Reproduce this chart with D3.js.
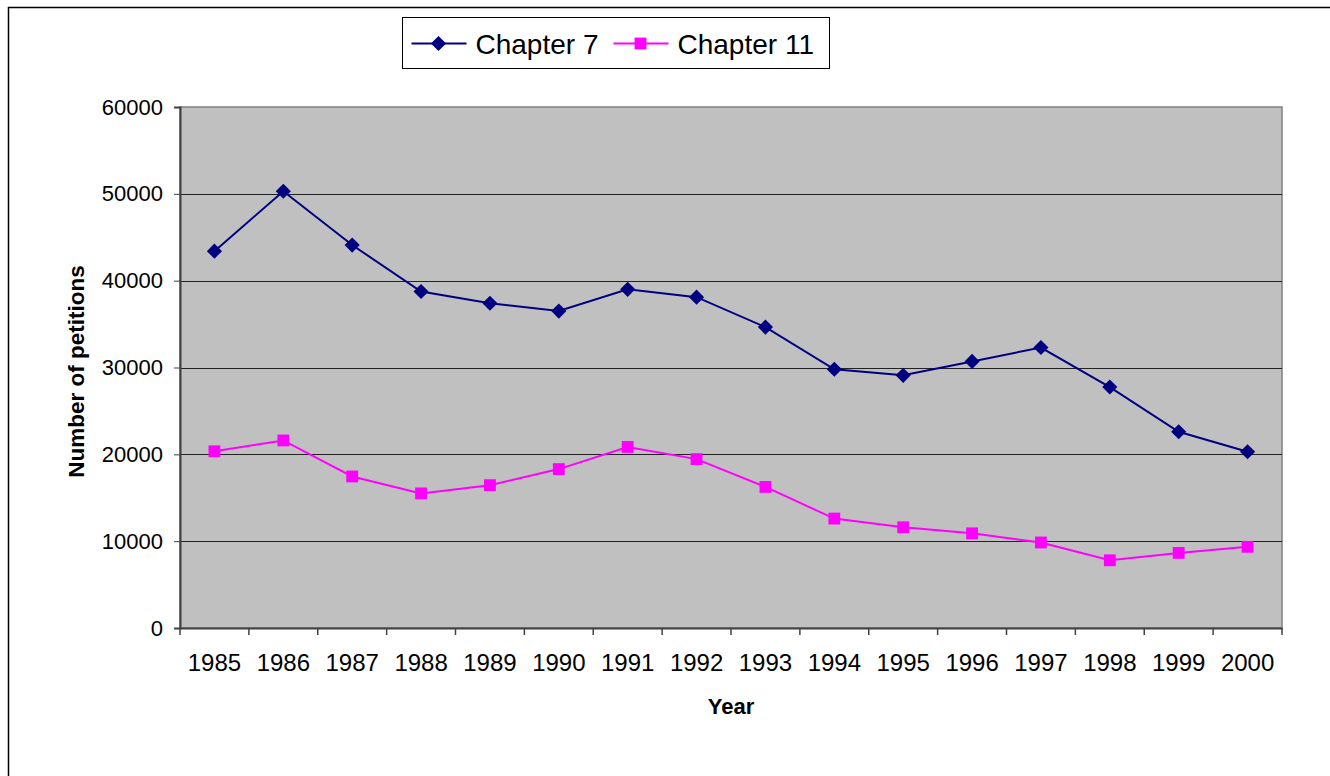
<!DOCTYPE html>
<html>
<head>
<meta charset="utf-8">
<script src="https://cdn.jsdelivr.net/npm/d3@7"></script>
<style>
  body { margin: 0; background: #fff; }
  svg { display: block; font-family: "Liberation Sans", Arial, sans-serif; }
  .axis path, .axis line { stroke: #404040; }
</style>
</head>
<body>
<div id="chart"></div>
<script>
// --- Data ---
const years = ['1985', '1986', '1987', '1988', '1989', '1990', '1991', '1992',
               '1993', '1994', '1995', '1996', '1997', '1998', '1999', '2000'];
const chapter7 = [43400, 50300, 44100, 38750, 37400, 36500, 39000, 38100,
                  34650, 29800, 29100, 30700, 32300, 27750, 22600, 20300];
const chapter11 = [20350, 21600, 17450, 15500, 16450, 18300, 20850, 19450,
                   16250, 12600, 11600, 10900, 9850, 7800, 8650, 9350];
const yTicks = [0, 10000, 20000, 30000, 40000, 50000, 60000];

const W = 1330, H = 776;
const margin = { top: 107, right: 48, bottom: 148, left: 180 };
const width = W - margin.left - margin.right;
const height = H - margin.top - margin.bottom;

const root = d3.select('#chart').append('svg')
    .attr('width', W)
    .attr('height', H);

// outer chart frame
root.append('rect')
    .attr('x', 8.5).attr('y', 7.5)
    .attr('width', W + 10).attr('height', H + 10)
    .attr('fill', 'none').attr('stroke', '#000').attr('stroke-width', 1.5);

const svg = root.append('g')
    .attr('transform', `translate(${margin.left},${margin.top})`);

// --- Scales ---
const x = d3.scaleBand().domain(years).range([0, width]);
const y = d3.scaleLinear().domain([0, 60000]).range([height, 0]);
const cx = d => x(d) + x.bandwidth() / 2;

// plot area
svg.append('rect')
    .attr('width', width).attr('height', height)
    .attr('fill', '#c0c0c0')
    .attr('stroke', '#808080').attr('stroke-width', 1.5);

// gridlines
svg.append('g')
    .selectAll('line')
    .data(yTicks.filter(v => v > 0 && v < 60000))
    .join('line')
    .attr('x1', 0).attr('x2', width)
    .attr('y1', d => Math.round(y(d)) + 0.5).attr('y2', d => Math.round(y(d)) + 0.5)
    .attr('stroke', '#222').attr('stroke-width', 1);

// --- Axes ---
const yAxis = svg.append('g')
    .attr('class', 'axis')
    .call(d3.axisLeft(y).tickValues(yTicks).tickSize(6).tickPadding(11).tickFormat(d3.format('d')));
yAxis.select('.domain').attr('stroke-width', 2);
yAxis.selectAll('text').attr('font-size', '22px').attr('fill', '#000');

const xAxis = svg.append('g')
    .attr('class', 'axis')
    .attr('transform', `translate(0,${height})`)
    .call(d3.axisBottom(x).tickSize(0).tickPadding(26));
xAxis.select('.domain').attr('stroke-width', 2);
xAxis.selectAll('text').attr('font-size', '24px').attr('fill', '#000');

// category boundary ticks
xAxis.append('g')
    .selectAll('line')
    .data(d3.range(years.length + 1))
    .join('line')
    .attr('x1', i => i * x.step()).attr('x2', i => i * x.step())
    .attr('y1', 0).attr('y2', 7)
    .attr('stroke', '#404040').attr('stroke-width', 1.5);

// --- Axis Labels ---
svg.append('text')
    .attr('x', width / 2)
    .attr('y', height + 86)
    .attr('text-anchor', 'middle')
    .attr('font-size', '22px')
    .attr('font-weight', 'bold')
    .text('Year');

svg.append('text')
    .attr('transform', 'rotate(-90)')
    .attr('x', -height / 2 - 4)
    .attr('y', -96)
    .attr('text-anchor', 'middle')
    .attr('font-size', '22.5px')
    .attr('font-weight', 'bold')
    .text('Number of petitions');

// --- Series ---
const series = [
    { name: 'Chapter 7', values: chapter7, color: '#000080', symbol: d3.symbolSquare, size: 115, rotate: 45 },
    { name: 'Chapter 11', values: chapter11, color: '#ff00ff', symbol: d3.symbolSquare, size: 140, rotate: 0 }
];

const line = d3.line()
    .x((d, i) => cx(years[i]))
    .y(d => y(d));

series.forEach(s => {
    svg.append('path')
        .datum(s.values)
        .attr('fill', 'none')
        .attr('stroke', s.color)
        .attr('stroke-width', 2)
        .attr('d', line);

    svg.append('g')
        .selectAll('path')
        .data(s.values)
        .join('path')
        .attr('transform', (d, i) => `translate(${cx(years[i])},${y(d)}) rotate(${s.rotate})`)
        .attr('d', d3.symbol().type(s.symbol).size(s.size))
        .attr('fill', s.color);
});

// --- Legend ---
const legend = root.append('g').attr('transform', 'translate(402.5,17.5)');
legend.append('rect')
    .attr('width', 427).attr('height', 51)
    .attr('fill', '#fff').attr('stroke', '#000').attr('stroke-width', 1);

const legendX = [9, 211];
series.forEach((s, i) => {
    const g = legend.append('g').attr('transform', `translate(${legendX[i]},26)`);
    g.append('line')
        .attr('x1', 0).attr('x2', 55)
        .attr('stroke', s.color).attr('stroke-width', 2);
    g.append('path')
        .attr('transform', `translate(27,0) rotate(${s.rotate})`)
        .attr('d', d3.symbol().type(s.symbol).size(s.size))
        .attr('fill', s.color);
    g.append('text')
        .attr('x', 64)
        .attr('y', 10)
        .attr('font-size', '28px')
        .text(s.name);
});
</script>
</body>
</html>
